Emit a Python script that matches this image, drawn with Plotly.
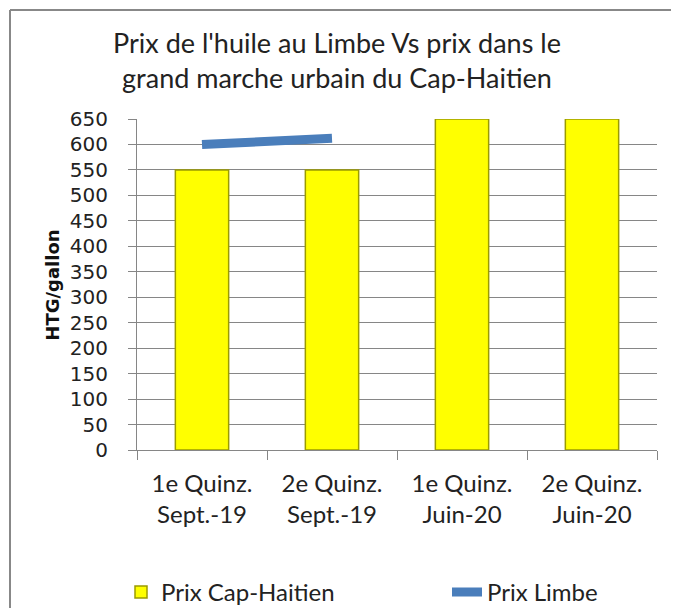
import plotly.graph_objects as go

# Data
categories = ['1e Quinz.<br>Sept.-19', '2e Quinz.<br>Sept.-19',
              '1e Quinz.<br>Juin-20', '2e Quinz.<br>Juin-20']
prix_cap_haitien = [550, 550, 650, 650]
prix_limbe = [600, 612, None, None]
y_ticks = list(range(0, 651, 50))

grid = '#868686'
txt = '#222222'

fig = go.Figure()

fig.add_trace(go.Bar(
    name='Prix Cap-Haitien',
    x=categories,
    y=prix_cap_haitien,
    marker=dict(color='#FFFF00', line=dict(color='#9B9B00', width=1.5)),
    legend='legend',
))

fig.add_trace(go.Scatter(
    name='Prix Limbe',
    x=categories,
    y=prix_limbe,
    mode='lines',
    line=dict(color='#4A7EBB', width=9),
    legend='legend2',
))

legend_font = dict(family='Lato', size=24, color=txt)

# page body adds an 8px margin, so the figure is a bit smaller and shifted
W, H = 663, 600
bx = (2 - 129) / 520          # left edge of the chart frame
by = 1 + (111 - 2) / 331      # top edge of the chart frame
frame = dict(color='#888888', width=2)

fig.update_layout(
    width=W, height=H,
    margin=dict(l=129, r=14, t=111, b=158, autoexpand=False),
    paper_bgcolor='white',
    plot_bgcolor='white',
    bargap=0.59,
    showlegend=True,
    title=dict(
        text="Prix de l'huile au Limbe Vs prix dans le<br>grand marche urbain du Cap-Haitien",
        x=329 / W, xanchor='center',
        y=1 - 45 / H, yanchor='middle',
        font=dict(family='Lato', size=27, color=txt),
    ),
    xaxis=dict(
        showline=True, linecolor=grid, linewidth=1,
        ticks='outside', tickson='boundaries', ticklen=9, tickcolor=grid,
        ticklabelstandoff=12,
        tickfont=dict(family='Lato', size=24, color=txt),
        showgrid=False,
    ),
    yaxis=dict(
        range=[0, 650],
        tickvals=y_ticks,
        showline=True, linecolor=grid, linewidth=1,
        ticks='outside', ticklen=8, tickcolor=grid,
        ticklabelstandoff=16,
        showgrid=True, gridcolor=grid, gridwidth=1,
        zeroline=False,
        tickfont=dict(family='DejaVu Sans', size=20, color=txt),
    ),
    legend=dict(
        orientation='h',
        x=(121 - 137) / 520, xanchor='left',
        y=-0.43, yanchor='middle',
        font=legend_font,
    ),
    legend2=dict(
        orientation='h',
        x=(447 - 137) / 520, xanchor='left',
        y=-0.43, yanchor='middle',
        font=legend_font,
    ),
    annotations=[dict(
        text='<b>HTG/gallon</b>',
        xref='paper', yref='paper',
        x=(32 - 129) / 520, y=0.498,
        textangle=-90, showarrow=False,
        font=dict(family='DejaVu Sans', size=18, color='#111111'),
    )],
    shapes=[
        dict(type='line', xref='paper', yref='paper',
             x0=bx, x1=bx, y0=-0.7, y1=by, line=frame, layer='below'),
        dict(type='line', xref='paper', yref='paper',
             x0=bx, x1=1.2, y0=by, y1=by, line=frame, layer='below'),
    ],
)

fig.write_html("out.html")
